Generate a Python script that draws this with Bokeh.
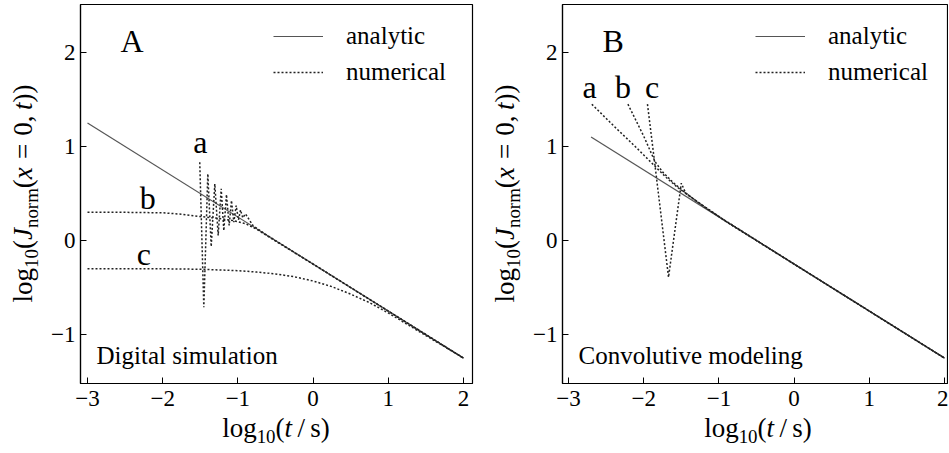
from bokeh.plotting import figure
from bokeh.models import Range1d, FixedTicker, Label, Legend, LegendItem, Div
from bokeh.layouts import row, column
from bokeh.embed import file_html
from bokeh.resources import INLINE
from bokeh.core.properties import value

FONT = "Liberation Serif"

# ---------------- data ----------------
x_ticks = [-3, -2, -1, 0, 1, 2]
x_tick_labels = ["−3", "−2", "−1", "0", "1", "2"]
y_ticks = [-1, 0, 1, 2]
y_tick_labels = ["−1", "0", "1", "2"]

# Panel A (digital simulation)
A_analytic_x = [-3.0, 2.0]
A_analytic_y = [1.25, -1.25]

A_a_x = [-1.507, -1.453, -1.400, -1.355, -1.307, -1.262, -1.222, -1.187, -1.152,
         -1.116, -1.085, -1.054, -1.023, -0.992, -0.965, -0.935, -0.899, -0.80,
         -0.65, -0.5, 0.0, 1.0, 2.0]
A_a_y = [0.833, -0.709, 0.709, -0.064, 0.603, 0.053, 0.550, 0.106, 0.489,
         0.160, 0.426, 0.195, 0.372, 0.220, 0.326, 0.241, 0.284, 0.16,
         0.075, 0.0, -0.25, -0.75, -1.25]

A_b_x = [-3.0, -2.5, -2.0, -1.75, -1.5, -1.25, -1.05, -0.9, -0.75, -0.5, 0.0, 1.0, 2.0]
A_b_y = [0.30, 0.30, 0.295, 0.28, 0.255, 0.235, 0.21, 0.18, 0.12, -0.005, -0.25, -0.75, -1.25]

A_c_x = [-3.0, -2.5, -2.0, -1.5, -1.0, -0.75, -0.5, -0.25, 0.0, 0.25, 0.5, 0.75, 1.0,
         1.25, 1.5, 1.75, 2.0]
A_c_y = [-0.30, -0.30, -0.30, -0.305, -0.32, -0.335, -0.355, -0.385, -0.43, -0.49,
         -0.57, -0.66, -0.77, -0.89, -1.01, -1.13, -1.25]

A_letters = ["a", "b", "c"]
A_letters_x = [-1.50, -2.20, -2.25]
A_letters_y = [1.05, 0.45, -0.145]

# Panel B (convolutive modeling)
B_analytic_x = [-2.7, 2.0]
B_analytic_y = [1.10, -1.25]

B_a_x = [-2.69, -2.4, -2.1, -1.85, -1.7, -1.55, -1.4, -1.2, -1.0, 0.0, 1.0, 2.0]
B_a_y = [1.45, 1.22, 0.99, 0.79, 0.67, 0.565, 0.48, 0.36, 0.255, -0.25, -0.75, -1.25]

B_b_x = [-2.21, -2.0, -1.85, -1.75, -1.6, -1.45, -1.3, -1.1, -0.9, 0.0, 1.0, 2.0]
B_b_y = [1.45, 1.11, 0.84, 0.73, 0.61, 0.51, 0.42, 0.31, 0.20, -0.25, -0.75, -1.25]

B_c_x = [-1.95, -1.85, -1.67, -1.50, -1.44, -1.3, -1.1, -0.9, 0.0, 1.0, 2.0]
B_c_y = [1.45, 0.80, -0.39, 0.61, 0.50, 0.42, 0.31, 0.20, -0.25, -0.75, -1.25]

B_letters = ["a", "b", "c"]
B_letters_x = [-2.72, -2.275, -1.89]
B_letters_y = [1.63, 1.63, 1.63]

x_label_html = ("log<sub style='font-size:0.7em;vertical-align:-0.3em;line-height:0'>10</sub>"
                "(<i>t</i>&#8201;/&#8201;s)")
y_label_html = ("log<sub style='font-size:0.7em;vertical-align:-0.3em;line-height:0'>10</sub>"
                "(<i>J</i><sub style='font-size:0.7em;vertical-align:-0.3em;line-height:0'>norm</sub>"
                "(<i>x</i><span style='margin:0 0.3em'>=</span>0,&#8201;<i>t</i>))")

# ---------------- layout constants ----------------
FRAME_TOP = 4
FRAME_H = 379
FIG_BOTTOM = 37
FIG_H = FRAME_TOP + FRAME_H + FIG_BOTTOM
XDIV_H = 32
YDIV_W = 40
LABEL_PX = 27


def make_panel(width, border_right, xr, letter, caption,
               an_x, an_y, curves, let_txt, let_x, let_y):
    p = figure(width=width, height=FIG_H, output_backend="svg", toolbar_location=None,
               x_range=Range1d(*xr), y_range=Range1d(-1.52, 2.51),
               min_border_left=40, min_border_right=border_right,
               min_border_top=FRAME_TOP, min_border_bottom=FIG_BOTTOM,
               background_fill_color="white", border_fill_color="white")
    p.xgrid.visible = False
    p.ygrid.visible = False
    p.outline_line_color = "black"
    p.outline_line_width = 1.2
    p.outline_line_alpha = 1.0

    p.xaxis.ticker = FixedTicker(ticks=x_ticks)
    p.xaxis.major_label_overrides = {t: l for t, l in zip(x_ticks, x_tick_labels)}
    p.yaxis.ticker = FixedTicker(ticks=y_ticks)
    p.yaxis.major_label_overrides = {t: l for t, l in zip(y_ticks, y_tick_labels)}
    for ax in (p.xaxis, p.yaxis):
        ax.major_tick_in = 6
        ax.major_tick_out = 0
        ax.minor_tick_line_color = None
        ax.axis_line_color = "black"
        ax.axis_line_width = 1.2
        ax.major_tick_line_color = "black"
        ax.major_label_text_font = FONT
        ax.major_label_text_font_size = "23px"
        ax.major_label_text_color = "black"
    p.xaxis.major_label_standoff = 7
    p.yaxis.major_label_standoff = 5

    r_an = p.line(an_x, an_y, line_color="#555555", line_width=1.2)
    r_num = None
    for cx, cy in curves:
        r = p.line(cx, cy, line_color="#222222", line_width=1.5, line_dash="2 2")
        if r_num is None:
            r_num = r

    p.text(x=let_x, y=let_y, text=let_txt, text_font=value(FONT), text_font_size="32px",
           text_align="center", text_baseline="alphabetic", text_color="black")

    legend = Legend(items=[LegendItem(label="analytic", renderers=[r_an]),
                           LegendItem(label="numerical", renderers=[r_num])],
                    location=(193, 296), border_line_color=None,
                    background_fill_alpha=0.0, padding=0, margin=0, spacing=6,
                    glyph_width=50, glyph_height=30, label_height=30,
                    label_standoff=23, label_text_font=FONT,
                    label_text_font_size="25px", label_text_color="black")
    p.add_layout(legend)

    p.add_layout(Label(x=40, y=FRAME_H - 36, x_units="screen", y_units="screen",
                       text=letter, text_font=FONT, text_font_size="32px",
                       text_baseline="alphabetic", text_color="black"))
    p.add_layout(Label(x=16, y=28, x_units="screen", y_units="screen",
                       text=caption, text_font=FONT, text_font_size="25px",
                       text_baseline="alphabetic", text_color="black"))
    return p


def x_label_div(width):
    pad = 2 * 236 - width
    html = (f"<div style=\"box-sizing:border-box;width:{width}px;padding-left:{pad}px;"
            f"position:relative;top:-5px;text-align:center;white-space:nowrap;"
            f"font-family:'{FONT}';font-size:{LABEL_PX}px;line-height:{LABEL_PX}px;color:#000\">"
            f"{x_label_html}</div>")
    return Div(text=html, width=width, height=XDIV_H, margin=(0, 0, 0, 0),
               styles={"overflow": "visible"})


def y_label_div():
    html = (f"<div style=\"width:48px;height:{2 * FRAME_TOP + FRAME_H}px;display:flex;"
            f"align-items:center;justify-content:center;\">"
            f"<span style=\"display:inline-block;flex-shrink:0;transform:rotate(-90deg);"
            f"white-space:nowrap;font-family:'{FONT}';font-size:{LABEL_PX}px;"
            f"line-height:{LABEL_PX}px;color:#000\">{y_label_html}</span></div>")
    return Div(text=html, width=YDIV_W, height=FIG_H + XDIV_H, margin=(0, 0, 0, 0),
               styles={"overflow": "visible"})


pA = make_panel(442, 10, (-3.093, 2.12), "A", "Digital simulation",
                A_analytic_x, A_analytic_y,
                [(A_a_x, A_a_y), (A_b_x, A_b_y), (A_c_x, A_c_y)],
                A_letters, A_letters_x, A_letters_y)
pB = make_panel(426, 1, (-3.08, 2.04), "B", "Convolutive modeling",
                B_analytic_x, B_analytic_y,
                [(B_a_x, B_a_y), (B_b_x, B_b_y), (B_c_x, B_c_y)],
                B_letters, B_letters_x, B_letters_y)

layout = row(y_label_div(), column(pA, x_label_div(442)),
             y_label_div(), column(pB, x_label_div(426)))
open("out.html", "w").write(file_html(layout, INLINE))
